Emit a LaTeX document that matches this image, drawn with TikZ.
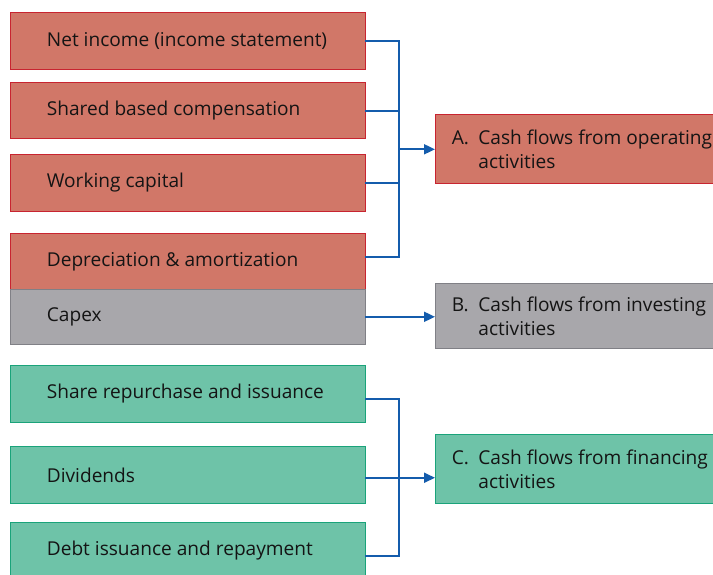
\documentclass[tikz,border=0pt]{standalone}
\usepackage{fontspec}
\setmainfont{Open Sans}
\usetikzlibrary{arrows.meta,calc}
\definecolor{redfill}{RGB}{209,119,104}
\definecolor{redline}{RGB}{200,36,48}
\definecolor{grayfill}{RGB}{168,167,171}
\definecolor{grayline}{RGB}{128,128,134}
\definecolor{greenfill}{RGB}{110,195,168}
\definecolor{greenline}{RGB}{26,163,122}
\definecolor{conblue}{RGB}{20,92,172}
\definecolor{txt}{RGB}{20,20,20}
\tikzset{
  box/.style={rectangle, anchor=north west, line width=0.9pt, inner sep=0pt},
  redbox/.style={box, draw=redline, fill=redfill},
  graybox/.style={box, draw=grayline, fill=grayfill},
  greenbox/.style={box, draw=greenline, fill=greenfill},
  leftbox/.style={minimum width=355pt},
  rightbox/.style={minimum width=300pt},
  lbl/.style={anchor=west, xshift=37.2pt, inner sep=0pt, text=txt, font=\fontsize{19.1}{24.5}\selectfont},
  rlbl/.style={anchor=west, xshift=16.7pt, inner sep=0pt, text=txt, align=left, font=\fontsize{19.1}{24.5}\selectfont},
  conn/.style={draw=conblue, line width=1.8pt},
  arr/.style={conn, -{Triangle[length=11pt,width=10pt]}}
}
\newcommand{\itm}[1]{\makebox[26.5pt][l]{#1}}
\begin{document}
\begin{tikzpicture}[x=1pt,y=-1pt]
\clip (0,0) rectangle (713,574);
\fill[white] (0,0) rectangle (713,574);
% left boxes
\node[redbox, leftbox, minimum height=56.7pt, label={[lbl]west:Net income (income statement)}] (n1) at (9.5,12.3) {};
\node[redbox, leftbox, minimum height=56pt, label={[lbl]west:Shared based compensation}] (n2) at (9.5,82) {};
\node[redbox, leftbox, minimum height=56.7pt, label={[lbl]west:Working capital}] (n3) at (9.5,154) {};
\node[redbox, leftbox, minimum height=56.3pt, label={[lbl]west:Depreciation \& amortization}] (n4) at (9.5,232.7) {};
\node[graybox, leftbox, minimum height=54.7pt, label={[lbl]west:Capex}] (cap) at (9.5,289) {};
\node[greenbox, leftbox, minimum height=56.4pt, label={[lbl]west:Share repurchase and issuance}] (g1) at (9.5,365.3) {};
\node[greenbox, leftbox, minimum height=56.4pt, label={[lbl]west:Dividends}] (g2) at (9.5,446.3) {};
\node[greenbox, leftbox, minimum height=57.3pt, label={[lbl]west:Debt issuance and repayment}] (g3) at (9.5,521.7) {};
% right boxes
\node[redbox, rightbox, minimum height=69.3pt, label={[rlbl]west:\itm{A.}Cash flows from operating\\\hspace*{26.5pt}activities}] (A) at (435,114) {};
\node[graybox, rightbox, minimum height=65pt, label={[rlbl]west:\itm{B.}Cash flows from investing\\\hspace*{26.5pt}activities}] (B) at (435,283.3) {};
\node[greenbox, rightbox, minimum height=69.3pt, label={[rlbl]west:\itm{C.}Cash flows from financing\\\hspace*{26.5pt}activities}] (C) at (435,434) {};
% junctions
\coordinate (jA) at (398.7,149.3);
\coordinate (jC) at (398.7,477.3);
% connectors A
\draw[conn] (n1.east) -| (jA);
\draw[conn] ([yshift=-0.6pt]n2.east) -| (jA);
\draw[conn] (n3.east) -| (jA);
\draw[conn] ([yshift=4pt]n4.east) -| (jA);
\draw[arr] (jA) -- (jA -| A.west);
% connector B
\draw[arr] (cap.east) -- (cap.east -| B.west);
% connectors C
\draw[conn] ([yshift=-4.8pt]g1.east) -| (jC);
\draw[conn] ([yshift=-5.4pt]g3.east) -| (jC);
\draw[arr] ([yshift=-2.8pt]g2.east) -- ([yshift=-2.8pt]g2.east -| C.west);
\end{tikzpicture}
\end{document}
